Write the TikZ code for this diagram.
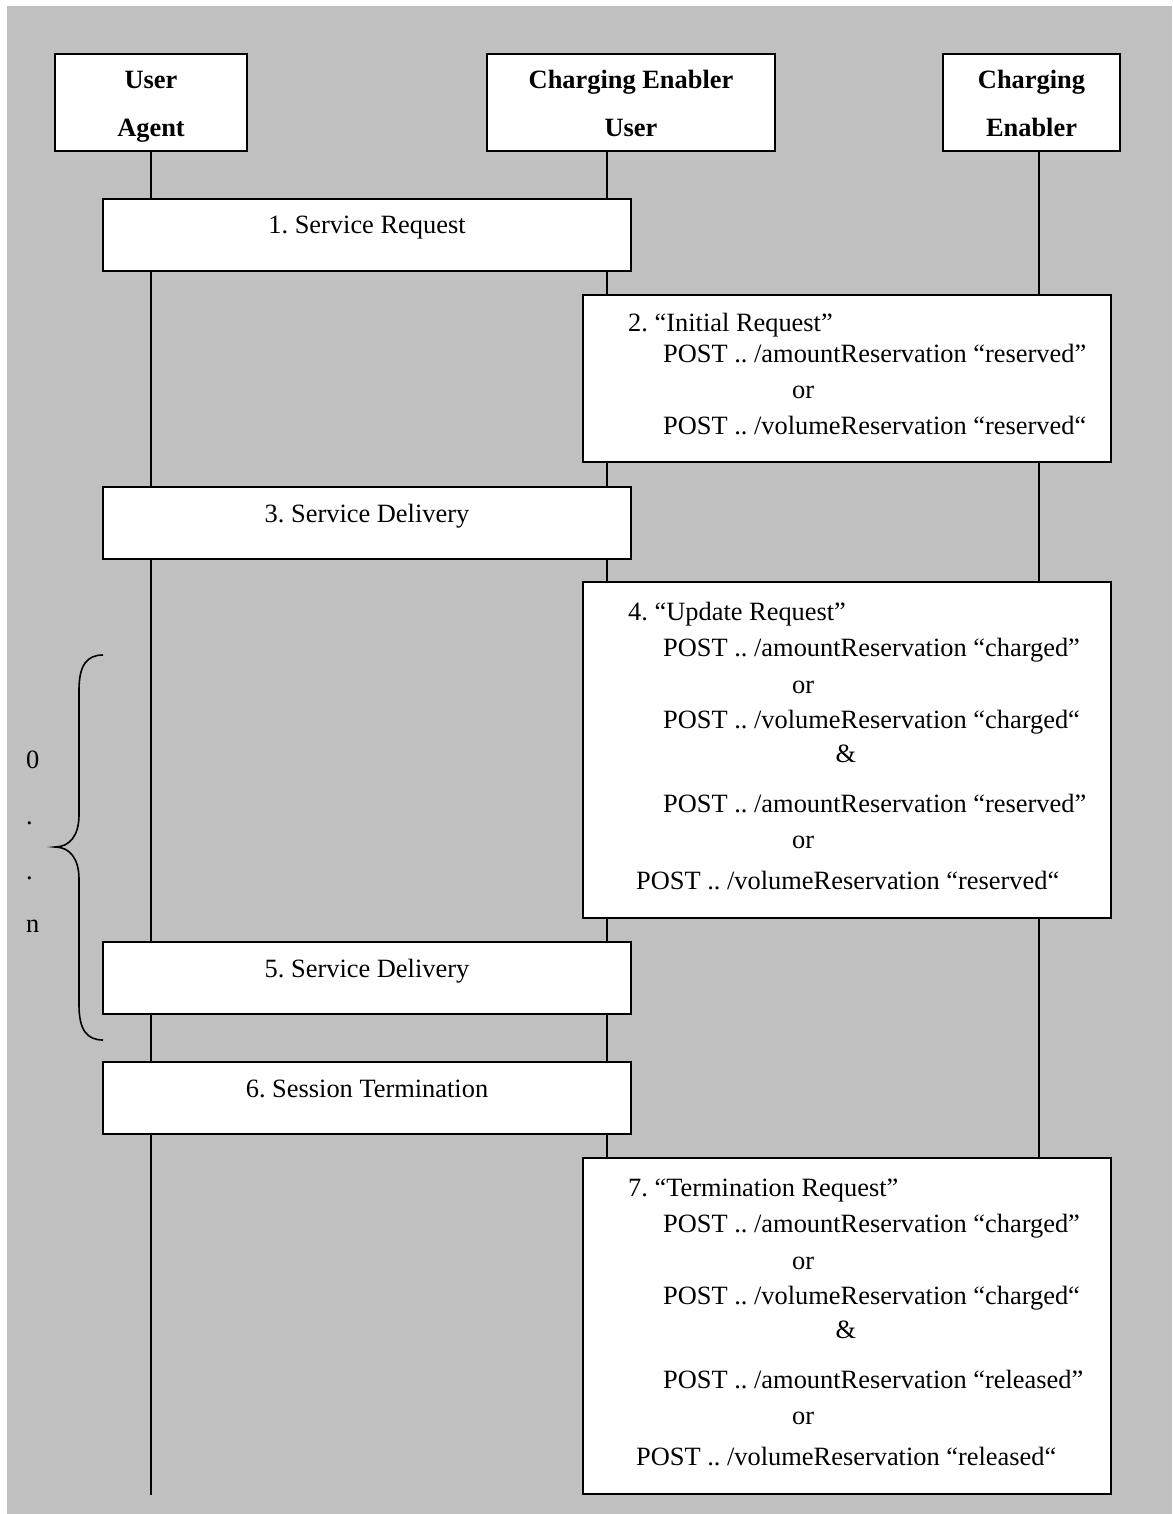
\documentclass[tikz,border=0pt]{standalone}
\usepackage{fontspec}
\setmainfont{Liberation Serif}
\usepackage{tikz}
\definecolor{bggray}{HTML}{C0C0C0}
\tikzstyle{actor}=[rectangle, draw=black, fill=white, line width=2pt, font=\fontsize{26.4}{48}\selectfont\bfseries, align=center, minimum height=97, inner sep=0pt, text height=71pt, text depth=2pt]
\tikzstyle{msgbox}=[rectangle, draw=black, fill=white, line width=2pt, minimum width=528, inner sep=0pt]
\tikzstyle{msg}=[inner sep=0pt, anchor=base west]
\tikzstyle{lifeline}=[line width=2pt]

\begin{document}
\frenchspacing
\begin{tikzpicture}[x=1pt, y=-1pt, font=\fontsize{26.4}{48}\selectfont]
	\fill[white] (0,0) rectangle (1172,1514);
	\fill[bggray] (7,6) rectangle (1172,1514);
	% actors
	\node[actor, minimum width=192] (ua) at (151,102.5) {User\\Agent};
	\node[actor, minimum width=288] (ceu) at (631,102.5) {Charging Enabler\\User};
	\node[actor, minimum width=177] (ce) at (1031.5,102.5) {Charging\\Enabler};
	% lifelines
	\coordinate (ua-end) at (151,1495);
	\coordinate (ceu-end) at (607,1158);
	\coordinate (ce-end) at (1039,1158);
	\draw[lifeline] (ua.south) -- (ua-end);
	\draw[lifeline] (ceu.south -| ceu-end) -- (ceu-end);
	\draw[lifeline] (ce.south -| ce-end) -- (ce-end);
	% 1
	\node[msgbox, minimum height=72] (b1) at (367,235) {};
	\node[msg, anchor=base] at ([yshift=-36pt]b1.north) {1. Service Request};
	% 2
	\node[msgbox, minimum height=167] (b2) at (847,378.5) {};
	\node[msg] at ([shift={(46,37.5)}]b2.north west) {2. “Initial Request”};
	\node[msg] at ([shift={(81,68.5)}]b2.north west) {POST .. /amountReservation “reserved”};
	\node[msg] at ([shift={(210,104)}]b2.north west) {or};
	\node[msg] at ([shift={(81,140)}]b2.north west) {POST .. /volumeReservation “reserved“};
	% 3
	\node[msgbox, minimum height=72] (b3) at (367,523) {};
	\node[msg, anchor=base] at ([yshift=-36pt]b3.north) {3. Service Delivery};
	% 4
	\node[msgbox, minimum height=336] (b4) at (847,750) {};
	\node[msg] at ([shift={(46,39.5)}]b4.north west) {4. “Update Request”};
	\node[msg] at ([shift={(81,75.5)}]b4.north west) {POST .. /amountReservation “charged”};
	\node[msg] at ([shift={(210,112)}]b4.north west) {or};
	\node[msg] at ([shift={(81,147.5)}]b4.north west) {POST .. /volumeReservation “charged“};
	\node[msg] at ([shift={(253.5,181)}]b4.north west) {\&};
	\node[msg] at ([shift={(81,231.5)}]b4.north west) {POST .. /amountReservation “reserved”};
	\node[msg] at ([shift={(210,267)}]b4.north west) {or};
	\node[msg] at ([shift={(54,308)}]b4.north west) {POST .. /volumeReservation “reserved“};
	% 5
	\node[msgbox, minimum height=72] (b5) at (367,978) {};
	\node[msg, anchor=base] at ([yshift=-36pt]b5.north) {5. Service Delivery};
	% 6
	\node[msgbox, minimum height=72] (b6) at (367,1098) {};
	\node[msg, anchor=base] at ([yshift=-36pt]b6.north) {6. Session Termination};
	% 7
	\node[msgbox, minimum height=336] (b7) at (847,1326) {};
	\node[msg] at ([shift={(46,39.5)}]b7.north west) {7. “Termination Request”};
	\node[msg] at ([shift={(81,75.5)}]b7.north west) {POST .. /amountReservation “charged”};
	\node[msg] at ([shift={(210,112)}]b7.north west) {or};
	\node[msg] at ([shift={(81,147.5)}]b7.north west) {POST .. /volumeReservation “charged“};
	\node[msg] at ([shift={(253.5,181)}]b7.north west) {\&};
	\node[msg] at ([shift={(81,231.5)}]b7.north west) {POST .. /amountReservation “released”};
	\node[msg] at ([shift={(210,267)}]b7.north west) {or};
	\node[msg] at ([shift={(54,308)}]b7.north west) {POST .. /volumeReservation “released“};
	% loop 0..n
	\draw[line width=1.6pt] (103,655) .. controls (87,655) and (79,665) .. (79,690) -- (79,815)
		.. controls (79,835) and (70,847) .. (55,847) .. controls (70,847) and (79,859) .. (79,879)
		-- (79,1005) .. controls (79,1030) and (87,1040) .. (103,1040);
	\node[msg] (n0) at (26,768) {0};
	\node[msg] (d1) at (26,824) {.};
	\node[msg] (d2) at (26,879) {.};
	\node[msg] (nn) at (26,932) {n};
\end{tikzpicture}
\end{document}
